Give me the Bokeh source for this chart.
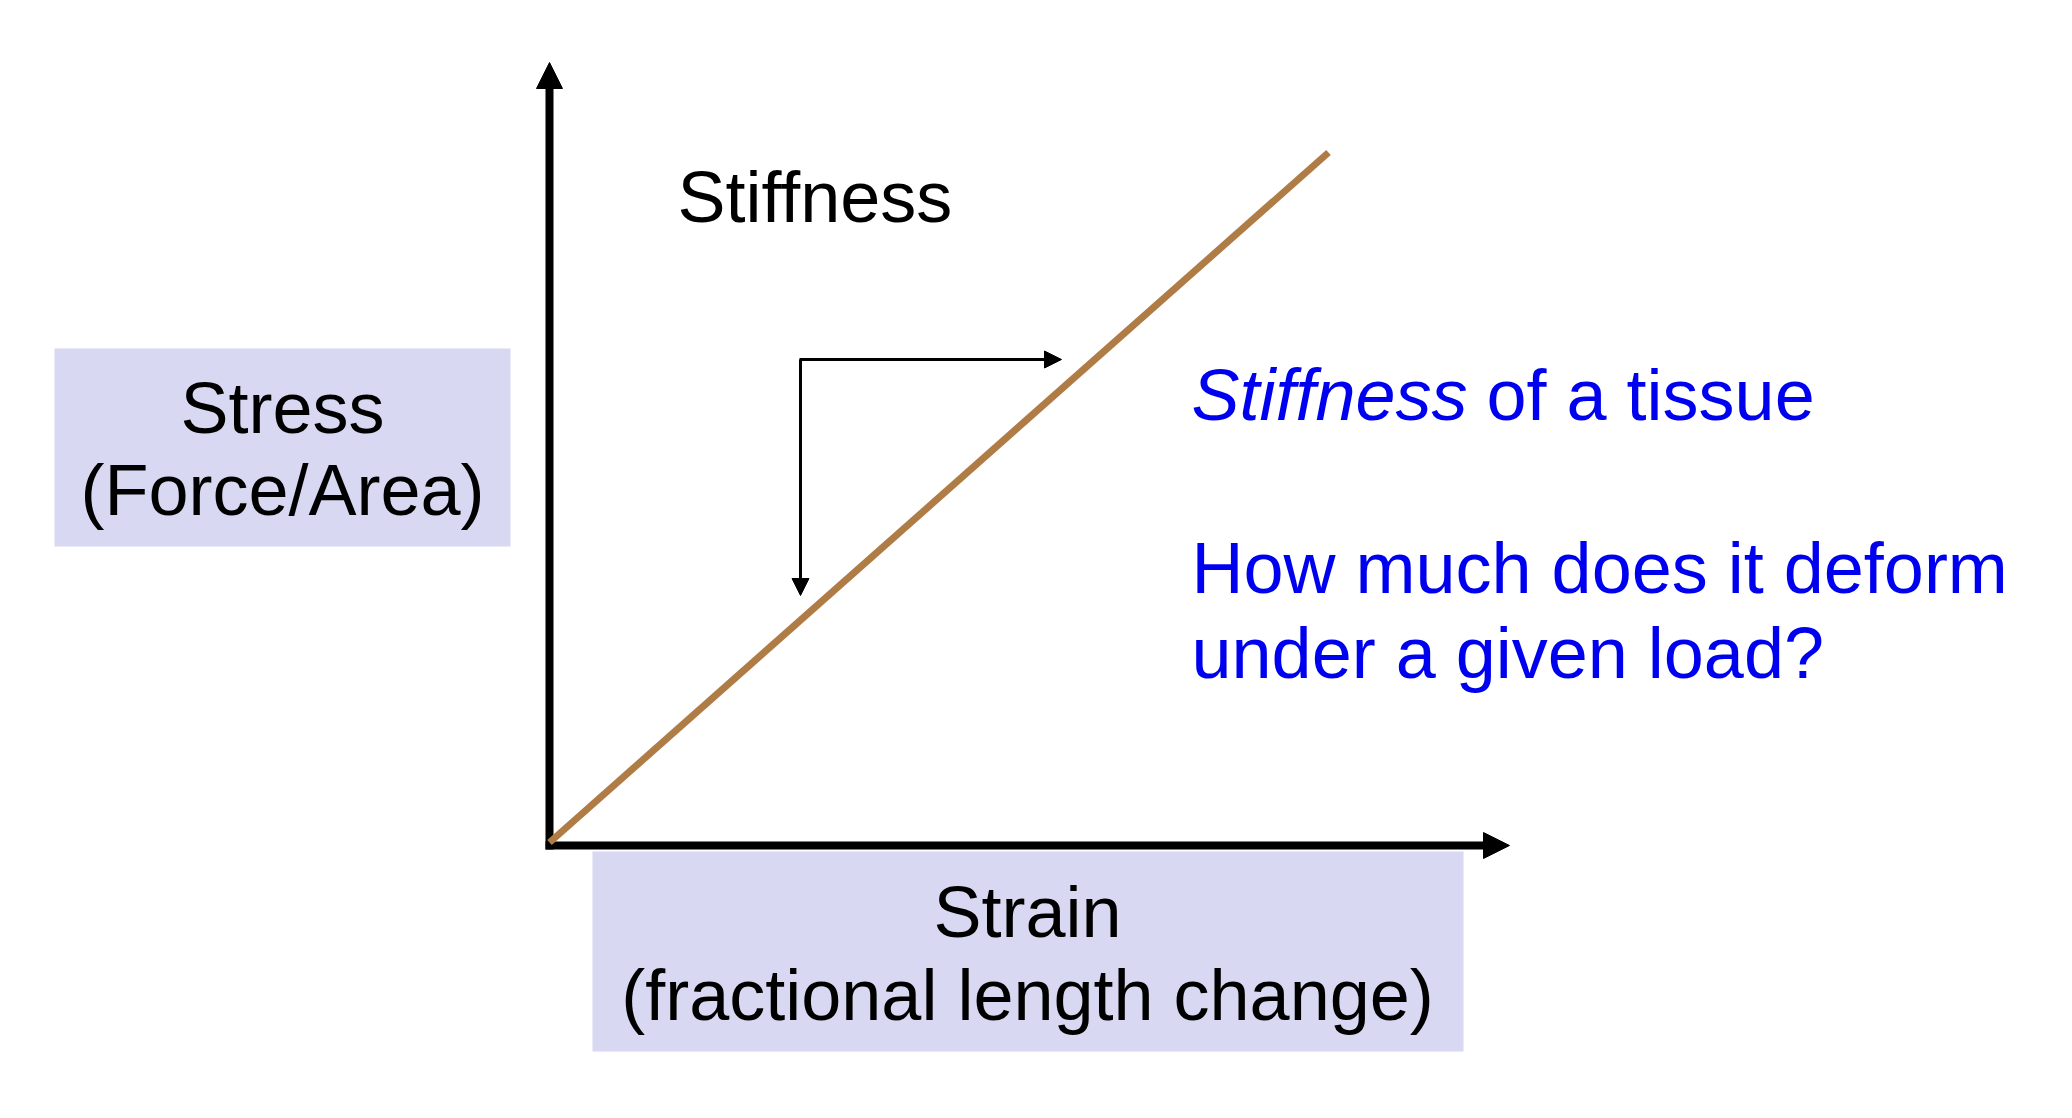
from bokeh.plotting import figure
from bokeh.models import Arrow, NormalHead, Label, BoxAnnotation, Range1d
from bokeh.embed import file_html
from bokeh.resources import INLINE

# Linear elastic region of a stress-strain curve
strain = [0.0, 1.0]
stress = [0.0, 1.0]

axis_label_y = ["Stress", "(Force/Area)"]
axis_label_x = ["Strain", "(fractional length change)"]
curve_title = "Stiffness"
note_italic = "Stiffness"
note_rest = "of a tissue"
question = ["How much does it deform", "under a given load?"]

W, H = 2072, 1118
FONT = "Liberation Sans"
SIZE = "72px"
BLUE = "#0000F0"
BOX = "#D8D8F2"
BROWN = "#B07C45"

# canvas position of the origin and of the point (1, 1)
X0, Y0 = 549, 842
X1, Y1 = 1328, 152


def gx(px):
    return (px - X0) / (X1 - X0)


def gy(py):
    return (Y0 - py) / (Y0 - Y1)


p = figure(width=W, height=H,
           x_range=Range1d(gx(0), gx(W)), y_range=Range1d(gy(H), gy(0)),
           x_axis_type=None, y_axis_type=None,
           toolbar_location=None, output_backend="svg",
           min_border=0, outline_line_color=None,
           background_fill_color="white", border_fill_color="white")

# shaded label boxes
p.add_layout(BoxAnnotation(left=gx(54), right=gx(510), top=gy(348), bottom=gy(546),
                           fill_color=BOX, fill_alpha=1, line_color=None, level="underlay"))
p.add_layout(BoxAnnotation(left=gx(592), right=gx(1463), top=gy(851), bottom=gy(1051),
                           fill_color=BOX, fill_alpha=1, line_color=None, level="underlay"))

# axes drawn as arrows
p.add_layout(Arrow(end=NormalHead(size=26, fill_color="black", line_color="black", line_width=1),
                   x_start=gx(545), y_start=gy(845), x_end=gx(1509), y_end=gy(845),
                   line_width=8, line_color="black", level="underlay"))
p.add_layout(Arrow(end=NormalHead(size=26, fill_color="black", line_color="black", line_width=1),
                   x_start=gx(549), y_start=gy(849), x_end=gx(549), y_end=gy(62),
                   line_width=8, line_color="black", level="underlay"))

# stress-strain line
p.line(strain, stress, line_width=7, line_color=BROWN)

# slope bracket
p.add_layout(Arrow(end=NormalHead(size=17, fill_color="black", line_color="black", line_width=1),
                   x_start=gx(799), y_start=gy(359), x_end=gx(1061), y_end=gy(359),
                   line_width=3, line_color="black"))
p.add_layout(Arrow(end=NormalHead(size=17, fill_color="black", line_color="black", line_width=1),
                   x_start=gx(800), y_start=gy(359), x_end=gx(800), y_end=gy(595),
                   line_width=3, line_color="black"))


def label(x, y, text, color="black", align="left", style="normal"):
    p.add_layout(Label(x=gx(x), y=gy(y), text=text, text_font=FONT, text_font_size=SIZE,
                       text_color=color, text_align=align, text_baseline="alphabetic",
                       text_font_style=style))


label(677, 196, curve_title)
label(282, 407, axis_label_y[0], align="center")
label(282, 489, axis_label_y[1], align="center")
label(1027, 911, axis_label_x[0], align="center")
label(1027, 994, axis_label_x[1], align="center")
label(1191, 394, note_italic, color=BLUE, style="italic")
label(1486, 394, note_rest, color=BLUE)
label(1191, 567, question[0], color=BLUE)
label(1191, 652, question[1], color=BLUE)

open("out.html", "w").write(file_html(p, INLINE))
